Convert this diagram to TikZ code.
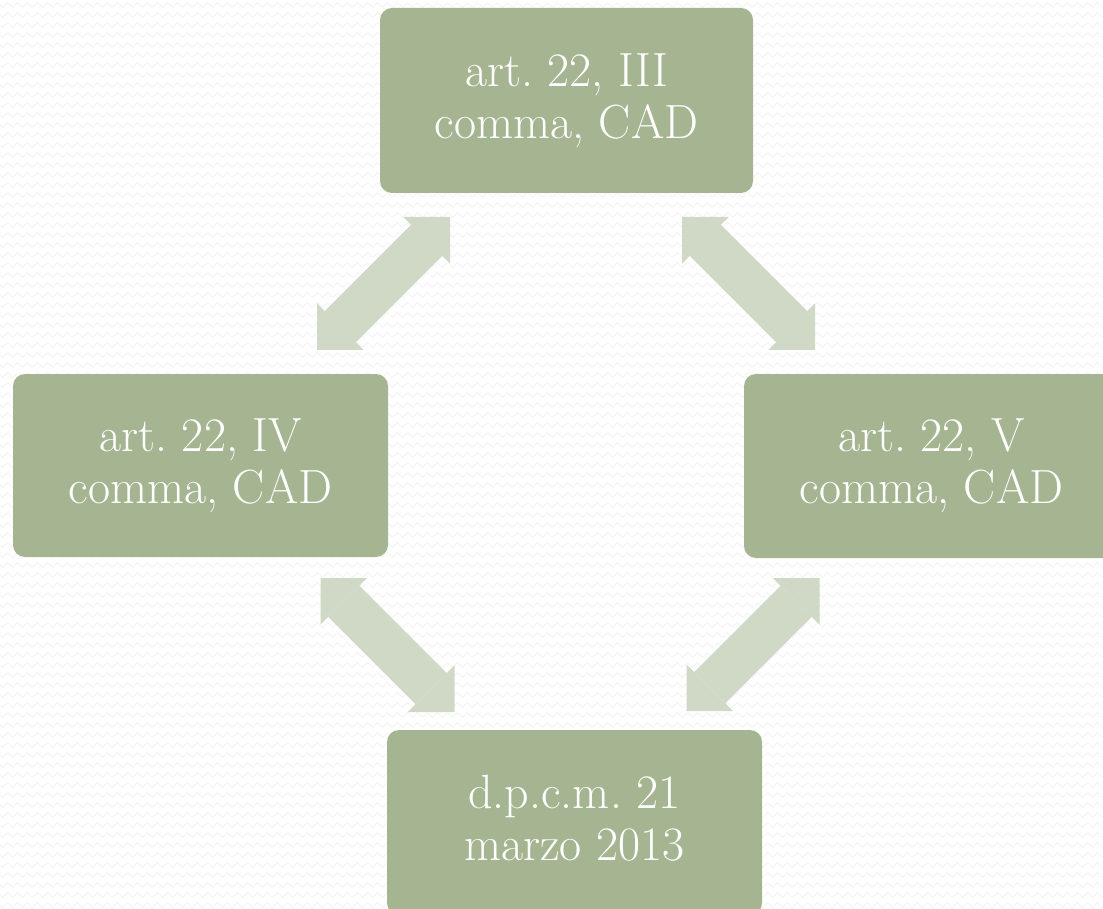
\documentclass[tikz,border=0pt]{standalone}
\usetikzlibrary{arrows.meta,decorations.pathmorphing}
\frenchspacing
\definecolor{boxgreen}{RGB}{165,181,146}
\definecolor{arrowgreen}{RGB}{208,216,198}
\definecolor{bgzig}{RGB}{243,243,243}
\tikzset{
  card/.style={fill=boxgreen, rounded corners=12pt, text=white, align=center,
    font=\fontsize{48}{52}\selectfont, inner sep=0pt},
  blockarrow/.style={draw=arrowgreen, line width=44pt,
    {Triangle[length=33pt,width=66pt,line width=0pt]}-{Triangle[length=33pt,width=66pt,line width=0pt]}},
  zig/.style={draw=bgzig, line width=0.8pt, decorate,
    decoration={zigzag, segment length=10pt, amplitude=2.5pt}}
}
\begin{document}
\begin{tikzpicture}[x=1pt,y=-1pt]
\useasboundingbox (0,0) rectangle (1103,909);
\clip (0,0) rectangle (1103,909);
\fill[white] (0,0) rectangle (1103,909);
\foreach \r in {0,...,91} { \draw[zig] (-5,{5+10*\r}) -- (1110,{5+10*\r}); }

\node[card, minimum width=373pt, minimum height=185pt] (top) at (566.5,100.5) {art. 22, III\\comma, CAD};
\node[card, minimum width=375pt, minimum height=183pt] (left) at (200.5,465.5) {art. 22, IV\\comma, CAD};
\node[card, minimum width=375pt, minimum height=184pt] (right) at (931.5,466) {art. 22, V\\comma, CAD};
\node[card, minimum width=375pt, minimum height=185pt, text depth=10pt] (bottom) at (574.5,822.5) {d.p.c.m. 21\\marzo 2013};

\coordinate (a1t) at (450,217);   \coordinate (a1l) at (317,350);
\coordinate (a2t) at (682,217);   \coordinate (a2r) at (815,350);
\coordinate (a3l) at (320.5,578); \coordinate (a3b) at (454.5,712);
\coordinate (a4r) at (819.5,578); \coordinate (a4b) at (686.5,711);

\draw[blockarrow] (a1t) -- (a1l);
\draw[blockarrow] (a2t) -- (a2r);
\draw[blockarrow] (a3l) -- (a3b);
\draw[blockarrow] (a4r) -- (a4b);
\end{tikzpicture}
\end{document}
